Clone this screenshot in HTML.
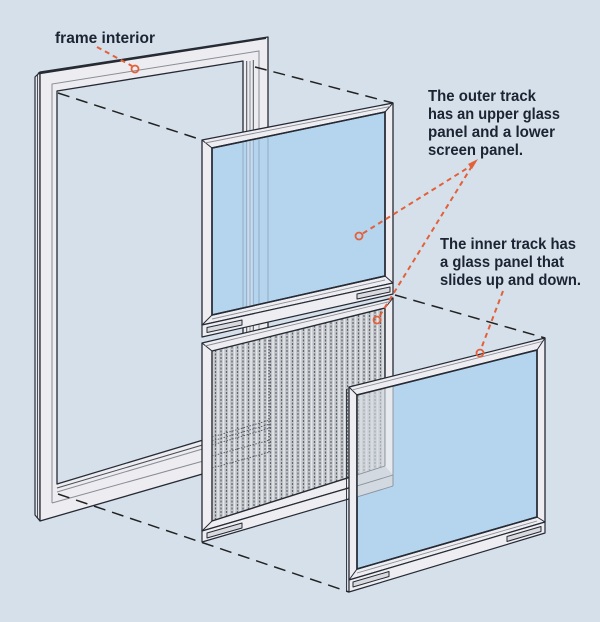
<!DOCTYPE html>
<html><head><meta charset="utf-8"><style>
html,body{margin:0;padding:0;background:#d5e0ea;width:600px;height:622px;overflow:hidden}
svg{display:block}
</style></head><body>
<svg width="600" height="622" viewBox="0 0 600 622" xmlns="http://www.w3.org/2000/svg" font-family="'Liberation Sans', sans-serif" font-weight="bold">
<defs>
<pattern id="mesh" width="5.5" height="3.5" patternUnits="userSpaceOnUse">
<rect width="5.5" height="3.5" fill="#c2c5ca"/>
<rect x="0.4" y="0" width="1.2" height="2" fill="#5f646c"/>
<rect x="2.8" y="0" width="1.5" height="3.5" fill="#e6e8eb"/>
</pattern>
<clipPath id="cA"><polygon points="212,148 385,112 385,276 212,315"/></clipPath>
<clipPath id="cB"><polygon points="212,351 385,308 385,466 212,521"/></clipPath>
<clipPath id="cC"><polygon points="357,395 537,350 537,517 357,569"/></clipPath>
</defs>
<rect width="600" height="622" fill="#d5e0ea"/>

<!-- frame -->
<g stroke="#262a33" stroke-linejoin="round">
<polygon points="35,77 40,72 40,521 35,515" fill="#e6e7ed" stroke-width="1.2"/>
<line x1="37.5" y1="75" x2="37.5" y2="518" stroke-width="0.8"/>
<path fill-rule="evenodd" fill="#ececf1" stroke-width="1.3" d="M40,72 L268,37 L268,455 L40,521 Z M57,91 L243,61 L243,428 L57,484 Z"/>
<line x1="38" y1="73.5" x2="266" y2="38" stroke-width="2"/>
</g>
<g fill="none" stroke="#8a8d95" stroke-width="1">
<polyline points="52,503 52,84 259,51 259,455"/>
<line x1="52" y1="503" x2="243" y2="450"/>
<line x1="57" y1="488" x2="243" y2="433" stroke="#4a4e56"/>
<line x1="57" y1="492" x2="243" y2="437"/>
<line x1="246.7" y1="61" x2="246.7" y2="440" stroke="#4a4e56"/>
<line x1="250" y1="61" x2="250" y2="440"/>
<line x1="253.3" y1="60" x2="253.3" y2="440" stroke="#4a4e56"/>
</g>

<!-- black dashed connectors -->
<g stroke="#222" stroke-width="1.5" stroke-dasharray="12 7" fill="none">
<line x1="58" y1="93" x2="202" y2="140"/>
<line x1="255" y1="67" x2="393" y2="103"/>
<line x1="395" y1="295" x2="545" y2="338"/>
<line x1="58" y1="494" x2="349" y2="592"/>
</g>

<!-- Panel A : upper glass -->
<g stroke="#262a33" stroke-linejoin="round">
<polygon points="202,140 393,103 393,283 202,325" fill="#ededf2" stroke-width="1.3"/>
<polygon points="202,325 393,283 393,294 202,337" fill="#ededf2" stroke-width="1.2"/>
<polygon points="212,148 385,112 385,276 212,315" fill="#b5d4ee" stroke-width="1.5"/>
</g>
<g clip-path="url(#cA)">
<rect x="247" y="100" width="6" height="230" fill="#c8dcee"/>
<g stroke="#8ea8bf" stroke-width="0.9">
<line x1="243" y1="100" x2="243" y2="330"/>
<line x1="246.7" y1="100" x2="246.7" y2="330"/>
<line x1="250" y1="100" x2="250" y2="330"/>
<line x1="253.3" y1="100" x2="253.3" y2="330"/>
<line x1="259" y1="100" x2="259" y2="330"/>
<line x1="268" y1="100" x2="268" y2="330"/>
</g>
</g>
<g stroke="#262a33" fill="none" stroke-linejoin="round">
<polygon points="212,148 385,112 385,276 212,315" stroke-width="1.5"/>
<path d="M202,140 L212,148 M393,103 L385,112 M385,276 L393,283 M212,315 L202,325" stroke-width="1"/>
<line x1="205" y1="143" x2="390" y2="106.5" stroke="#8a8d95" stroke-width="0.9"/>
<line x1="212" y1="319" x2="385" y2="280" stroke="#8a8d95" stroke-width="0.9"/>
<polygon points="207,327.5 242,320 242,325 207,332.5" fill="#d9dae0" stroke-width="1"/>
<polygon points="357,294 390,287 390,292 357,299" fill="#d9dae0" stroke-width="1"/>
</g>

<!-- Panel B : screen -->
<g stroke="#262a33" stroke-linejoin="round">
<polygon points="202,343 393,298 393,475 202,531" fill="#ededf2" stroke-width="1.3"/>
<polygon points="202,531 393,475 393,486 202,542" fill="#ededf2" stroke-width="1.2"/>
<polygon points="212,351 385,308 385,466 212,521" fill="url(#mesh)" stroke-width="1.4"/>
</g>
<g clip-path="url(#cB)" fill="none" stroke="#4f545c" stroke-width="0.9" stroke-dasharray="1.5 1.5">
<line x1="212" y1="437" x2="270" y2="420"/>
<line x1="212" y1="441" x2="270" y2="424"/>
<line x1="212" y1="445" x2="270" y2="428"/>
<line x1="212" y1="456" x2="270" y2="440"/>
<line x1="212" y1="468" x2="270" y2="452"/>
<line x1="269" y1="340" x2="269" y2="452" stroke="#3f434a" stroke-width="1.2"/>
</g>
<g stroke="#262a33" fill="none" stroke-linejoin="round">
<path d="M202,343 L212,351 M393,298 L385,308 M385,466 L393,475 M212,521 L202,531" stroke-width="1"/>
<line x1="205" y1="346" x2="390" y2="301.5" stroke="#8a8d95" stroke-width="0.9"/>
<polygon points="207,533 242,523 242,528 207,538" fill="#d9dae0" stroke-width="1"/>
</g>

<!-- Panel C : inner glass -->
<g stroke="#262a33" stroke-linejoin="round">
<polygon points="349,387 545,338 545,522 349,580" fill="#ededf2" stroke-width="1.3"/>
<polygon points="349,580 545,522 545,533 349,592" fill="#ededf2" stroke-width="1.2"/>
<polygon points="357,395 537,350 537,517 357,569" fill="#b5d4ee" stroke-width="1.5"/>
</g>
<g clip-path="url(#cC)">
<polygon points="357,370 393,361 393,486 357,497" fill="#d3d9e0"/>
<polygon points="357,300 385,300 385,466 357,475" fill="url(#mesh)" opacity="0.4"/>
<polygon points="385,300 393,300 393,475 385,466" fill="#e6e9ee"/>
<g stroke="#8a9099" stroke-width="0.9" fill="none">
<line x1="385" y1="300" x2="385" y2="466"/>
<line x1="393" y1="300" x2="393" y2="486"/>
<line x1="357" y1="475" x2="385" y2="466"/>
<line x1="357" y1="486" x2="393" y2="475"/>
<line x1="357" y1="497" x2="393" y2="486"/>
</g>
</g>
<g stroke="#262a33" fill="none" stroke-linejoin="round">
<polygon points="357,395 537,350 537,517 357,569" stroke-width="1.5"/>
<path d="M349,387 L357,395 M545,338 L537,350 M537,517 L545,522 M357,569 L349,580" stroke-width="1"/>
<line x1="352" y1="390" x2="542" y2="341.5" stroke="#8a8d95" stroke-width="0.9"/>
<line x1="357" y1="573" x2="537" y2="521" stroke="#8a8d95" stroke-width="0.9"/>
<line x1="346.5" y1="389" x2="346.5" y2="591" stroke-width="0.9"/>
<polygon points="353,582 389,571.5 389,576.5 353,587" fill="#d9dae0" stroke-width="1"/>
<polygon points="507,536.5 541,526.5 541,531.5 507,541.5" fill="#d9dae0" stroke-width="1"/>
</g>

<!-- orange leaders -->
<g stroke="#e3603b" stroke-width="2" fill="none" stroke-dasharray="5 4">
<line x1="97" y1="47" x2="132" y2="66"/>
<line x1="474" y1="164" x2="362" y2="234"/>
<line x1="472" y1="166" x2="379" y2="317"/>
<line x1="503" y1="291" x2="481" y2="349"/>
</g>
<g stroke="#e3603b" stroke-width="1.8" fill="none">
<circle cx="135" cy="69" r="3.5"/>
<circle cx="359" cy="236" r="3.5"/>
<circle cx="377" cy="320" r="3.5"/>
<circle cx="480" cy="353" r="3.5"/>
</g>
<polygon points="468,164 478,159 472,169" fill="#e3603b"/>

<!-- labels -->
<g fill="#1c2333" font-size="16">
<text x="55" y="43" textLength="100" lengthAdjust="spacingAndGlyphs">frame interior</text>
<text x="428" y="101" textLength="108" lengthAdjust="spacingAndGlyphs">The outer track</text>
<text x="428" y="119" textLength="132" lengthAdjust="spacingAndGlyphs">has an upper glass</text>
<text x="428" y="137" textLength="127" lengthAdjust="spacingAndGlyphs">panel and a lower</text>
<text x="428" y="155" textLength="95" lengthAdjust="spacingAndGlyphs">screen panel.</text>
<text x="440" y="249" textLength="136" lengthAdjust="spacingAndGlyphs">The inner track has</text>
<text x="440" y="267" textLength="124" lengthAdjust="spacingAndGlyphs">a glass panel that</text>
<text x="440" y="285" textLength="141" lengthAdjust="spacingAndGlyphs">slides up and down.</text>
</g>
</svg>
</body></html>
